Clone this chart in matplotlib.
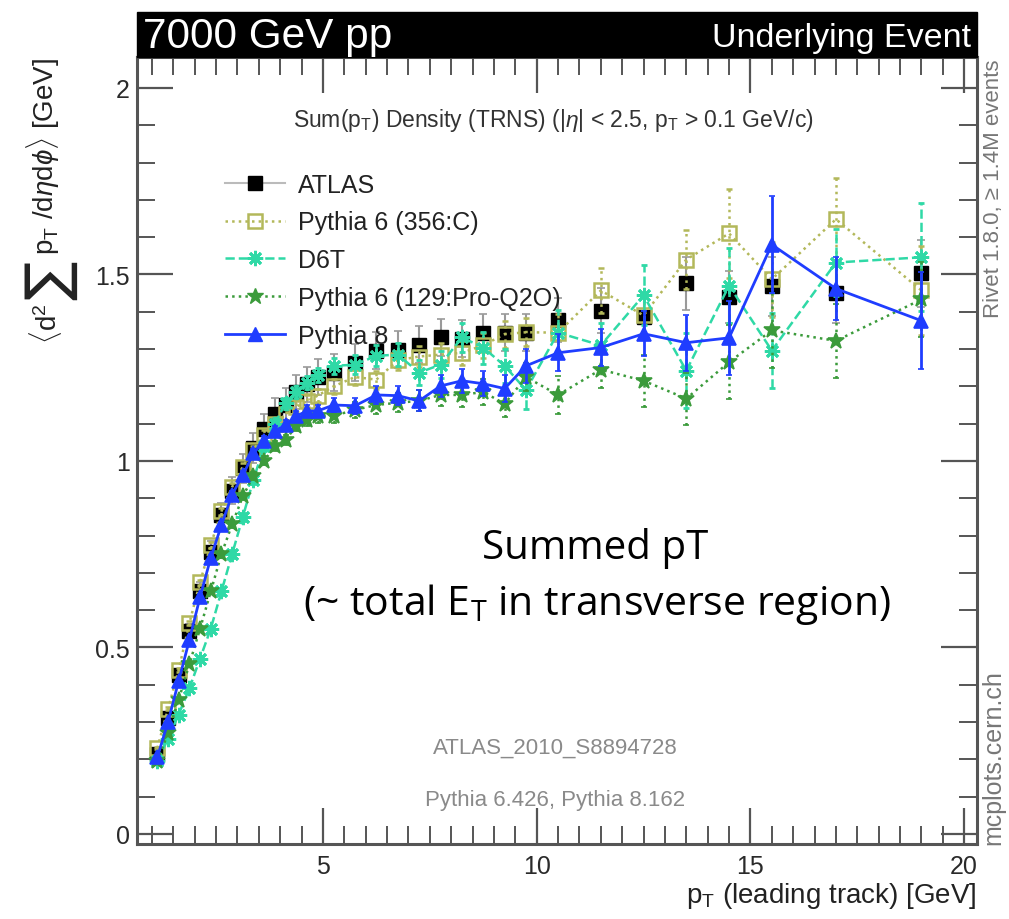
import matplotlib
matplotlib.use("Agg")
import matplotlib.pyplot as plt
from matplotlib.lines import Line2D
from matplotlib.patches import Rectangle
from matplotlib.ticker import MultipleLocator, FormatStrFormatter

plt.rcParams['font.family'] = ['Liberation Sans', 'DejaVu Sans']
plt.rcParams['mathtext.fontset'] = 'custom'
plt.rcParams['mathtext.rm'] = 'Liberation Sans'
plt.rcParams['mathtext.it'] = 'Liberation Sans:italic'

# leading-track pT bin centres [GeV]
pt = [1.125, 1.375, 1.625, 1.875, 2.125, 2.375, 2.625, 2.875, 3.125, 3.375,
      3.625, 3.875, 4.125, 4.375, 4.625, 4.875, 5.25, 5.75, 6.25, 6.75,
      7.25, 7.75, 8.25, 8.75, 9.25, 9.75, 10.5, 11.5, 12.5, 13.5,
      14.5, 15.5, 17.0, 19.0]

atlas = [0.215, 0.31, 0.425, 0.543, 0.65, 0.755, 0.855, 0.92, 0.98, 1.035,
         1.085, 1.125, 1.15, 1.185, 1.205, 1.225, 1.237, 1.263, 1.296, 1.298,
         1.312, 1.331, 1.328, 1.344, 1.344, 1.344, 1.378, 1.403, 1.387, 1.476,
         1.44, 1.468, 1.449, 1.503]
atlas_err = [0.01, 0.012, 0.015, 0.02, 0.025, 0.03, 0.033, 0.036, 0.038, 0.04,
             0.042, 0.044, 0.045, 0.046, 0.047, 0.048, 0.049, 0.05, 0.05, 0.05,
             0.05, 0.05, 0.05, 0.05, 0.05, 0.05, 0.06, 0.06, 0.06, 0.07,
             0.07, 0.08, 0.08, 0.09]

p6_356c = [0.23, 0.335, 0.44, 0.565, 0.675, 0.775, 0.865, 0.93, 0.985, 1.03,
           1.07, 1.1, 1.125, 1.145, 1.16, 1.175, 1.2, 1.225, 1.218, 1.27,
           1.28, 1.285, 1.29, 1.31, 1.34, 1.345, 1.344, 1.457, 1.39, 1.54,
           1.61, 1.487, 1.648, 1.457]
p6_356c_err = [0.003, 0.004, 0.005, 0.006, 0.007, 0.008, 0.009, 0.01, 0.01, 0.011,
               0.012, 0.013, 0.014, 0.015, 0.016, 0.017, 0.02, 0.022, 0.024, 0.026,
               0.028, 0.03, 0.032, 0.034, 0.036, 0.038, 0.05, 0.06, 0.06, 0.08,
               0.12, 0.1, 0.11, 0.12]

d6t = [0.195, 0.255, 0.32, 0.39, 0.47, 0.55, 0.65, 0.75, 0.85, 0.95,
       1.04, 1.1, 1.155, 1.185, 1.21, 1.23, 1.255, 1.258, 1.282, 1.285,
       1.237, 1.258, 1.331, 1.304, 1.255, 1.19, 1.344, 1.31, 1.444, 1.242,
       1.47, 1.296, 1.532, 1.546]
d6t_err = [0.003, 0.004, 0.005, 0.006, 0.007, 0.008, 0.009, 0.01, 0.011, 0.012,
           0.013, 0.014, 0.015, 0.016, 0.017, 0.018, 0.022, 0.025, 0.028, 0.03,
           0.033, 0.036, 0.04, 0.043, 0.046, 0.05, 0.06, 0.06, 0.08, 0.1,
           0.1, 0.1, 0.09, 0.145]

p6_129 = [0.195, 0.27, 0.36, 0.455, 0.55, 0.65, 0.75, 0.83, 0.905, 0.96,
          1.0, 1.04, 1.056, 1.094, 1.11, 1.12, 1.121, 1.137, 1.15, 1.156,
          1.161, 1.177, 1.177, 1.185, 1.153, 1.225, 1.177, 1.245, 1.215, 1.167,
          1.265, 1.35, 1.322, 1.433]
p6_129_err = [0.003, 0.004, 0.005, 0.006, 0.007, 0.008, 0.009, 0.01, 0.01, 0.011,
              0.012, 0.013, 0.014, 0.015, 0.016, 0.017, 0.02, 0.022, 0.024, 0.026,
              0.028, 0.03, 0.032, 0.034, 0.036, 0.038, 0.05, 0.05, 0.07, 0.07,
              0.1, 0.1, 0.1, 0.1]

p8 = [0.205, 0.30, 0.41, 0.52, 0.635, 0.74, 0.828, 0.91, 0.962, 1.02,
      1.054, 1.08, 1.097, 1.12, 1.134, 1.134, 1.15, 1.148, 1.177, 1.175,
      1.161, 1.201, 1.215, 1.207, 1.194, 1.255, 1.29, 1.304, 1.341, 1.317,
      1.33, 1.58, 1.462, 1.376]
p8_err = [0.003, 0.004, 0.005, 0.006, 0.007, 0.008, 0.009, 0.01, 0.01, 0.011,
          0.012, 0.013, 0.014, 0.015, 0.016, 0.017, 0.02, 0.022, 0.024, 0.026,
          0.028, 0.03, 0.032, 0.034, 0.036, 0.045, 0.05, 0.05, 0.06, 0.075,
          0.1, 0.13, 0.085, 0.13]

labels = ['ATLAS', 'Pythia 6 (356:C)', 'D6T', 'Pythia 6 (129:Pro-Q2O)', 'Pythia 8']

c_atlas = 'black'
c_356 = '#b3b85a'
c_d6t = '#2fd9a6'
c_129 = '#3b9b3b'
c_p8 = '#1f3dff'

W, H = 1009, 920
fig = plt.figure(figsize=(W / 100, H / 100), dpi=100)
ax = fig.add_axes([137 / W, 1 - 845 / H, 840 / W, 787 / H])

# data: markers with grey uncertainty bars
ax.errorbar(pt, atlas, yerr=atlas_err, fmt='s', color=c_atlas, ms=10,
            ecolor='#9a9a9a', elinewidth=1.5, capsize=3, capthick=1.2,
            zorder=3)


def mc(y, err, color, ls, marker, ms, mfc, lw, z, mew=1.2):
    res = ax.errorbar(pt, y, yerr=err, color=color, ls=ls, lw=lw, marker=marker,
                      ms=ms, mfc=mfc, mec=color, mew=mew, ecolor=color,
                      elinewidth=lw, capsize=2.5, capthick=1.0, zorder=z)
    res[2][0].set_linestyle(ls)
    return res


mc(p6_356c, p6_356c_err, c_356, ':', 's', 10, 'none', 1.8, 4, mew=1.8)
mc(d6t, d6t_err, c_d6t, '--', (8, 2, 0), 11, c_d6t, 1.8, 5, mew=2.0)
mc(p6_129, p6_129_err, c_129, ':', '*', 12, c_129, 1.8, 6)
mc(p8, p8_err, c_p8, '-', '^', 10, c_p8, 2.0, 7)

ax.set_xlim(0.65, 20.3)
ax.set_ylim(-0.027, 2.083)

ax.xaxis.set_major_locator(MultipleLocator(5))
ax.xaxis.set_minor_locator(MultipleLocator(0.5))
ax.yaxis.set_major_locator(MultipleLocator(0.5))
ax.yaxis.set_minor_locator(MultipleLocator(0.1))
ax.yaxis.set_major_formatter(FormatStrFormatter('%g'))
ax.tick_params(which='both', direction='in', top=True, right=True,
               color='#555555', labelsize=18, labelcolor='#2a2a2a')
ax.tick_params(which='major', length=26, width=1.6)
ax.tick_params(which='minor', length=13, width=1.4)
ax.tick_params(axis='x', pad=7)
ax.tick_params(axis='y', pad=5)
for s in ax.spines.values():
    s.set_linewidth(2.2)
    s.set_color('#555555')

ax.set_xlabel(r'p$_{\mathregular{T}}$ (leading track) [GeV]', loc='right',
              fontsize=20, color='#222222', labelpad=2)

# y-axis title built from pieces so the summation sign can be drawn large
renderer = fig.canvas.get_renderer()
t_top = fig.text(43 / W, 1 - 58 / H,
                 r'p$_{\mathregular{T}}$ /d$\eta$d$\phi\rangle$ [GeV]',
                 rotation=90, ha='center', va='top', fontsize=20, color='#222222')
bb = t_top.get_window_extent(renderer)
t_sum = fig.text(50 / W, (bb.y0 - 5) / H, '\u2211', family='DejaVu Sans',
                 rotation=90, ha='center', va='top', fontsize=42, color='#222222')
bb2 = t_sum.get_window_extent(renderer)
fig.text(45 / W, (bb2.y0 - 4) / H, r'$\langle$d$^{\mathregular{2}}$',
         rotation=90, ha='center', va='top', fontsize=20, color='#222222')

# header bar
fig.add_artist(Rectangle((137 / W, 1 - 58 / H), 840 / W, 45 / H,
                         transform=fig.transFigure, facecolor='black',
                         edgecolor='black', zorder=10))
fig.text(143 / W, 1 - 37 / H, '7000 GeV pp', color='white', fontsize=30.5,
         ha='left', va='center', zorder=11)
fig.text(971 / W, 1 - 39 / H, 'Underlying Event', color='white', fontsize=24.5,
         ha='right', va='center', zorder=11)

ax.text(0.495, 0.921, r'Sum(p$_{\mathregular{T}}$) Density (TRNS) (|$\eta$| < 2.5, p$_{\mathregular{T}}$ > 0.1 GeV/c)',
        transform=ax.transAxes, ha='center', va='center', fontsize=16.5,
        color='#333333')

handles = [
    Line2D([], [], color='#bbbbbb', lw=1.5, marker='s', ms=10, mfc=c_atlas, mec=c_atlas),
    Line2D([], [], color=c_356, lw=1.8, ls=':', marker='s', ms=10, mfc='none', mec=c_356, mew=1.8),
    Line2D([], [], color=c_d6t, lw=1.8, ls='--', marker=(8, 2, 0), ms=11, mec=c_d6t, mew=2.0),
    Line2D([], [], color=c_129, lw=1.8, ls=':', marker='*', ms=12, mfc=c_129, mec=c_129),
    Line2D([], [], color=c_p8, lw=2.0, ls='-', marker='^', ms=10, mfc=c_p8, mec=c_p8),
]
ax.legend(handles, labels, loc='upper left', bbox_to_anchor=(0.105, 0.853),
          frameon=False, fontsize=18, handlelength=2.4, handletextpad=0.5,
          labelspacing=0.55, borderpad=0, borderaxespad=0,
          labelcolor='#222222')

ax.text(0.545, 0.377, 'Summed pT', transform=ax.transAxes, ha='center',
        va='center', fontsize=29, family=['Open Sans', 'DejaVu Sans'], color='black')
ax.text(0.548, 0.305, r'(~ total E$_{\mathregular{T}}$ in transverse region)',
        transform=ax.transAxes, ha='center', va='center', fontsize=29.5,
        family=['Open Sans', 'DejaVu Sans'], color='black')

ax.text(0.498, 0.123, 'ATLAS_2010_S8894728', transform=ax.transAxes,
        ha='center', va='center', fontsize=16, color='#8a8a8a')
ax.text(0.498, 0.057, 'Pythia 6.426, Pythia 8.162', transform=ax.transAxes,
        ha='center', va='center', fontsize=16, color='#8a8a8a')

fig.text(993 / W, 1 - 60 / H, 'Rivet 1.8.0, \u2265 1.4M events', rotation=90,
         ha='center', va='top', fontsize=16, color='#777777')
fig.text(993 / W, 1 - 845 / H, 'mcplots.cern.ch', rotation=90,
         ha='center', va='bottom', fontsize=18, color='#777777')

fig.savefig('out.png', dpi=100)
